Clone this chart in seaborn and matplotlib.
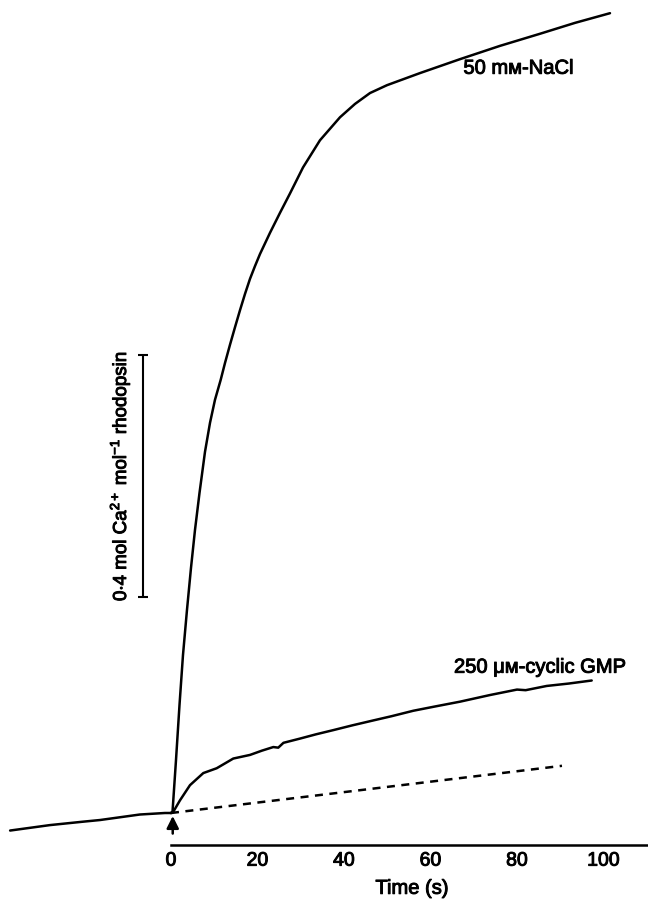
import numpy as np
import pandas as pd
import matplotlib
matplotlib.use("Agg")
import matplotlib.pyplot as plt
import matplotlib.patheffects as pe
import seaborn as sns

# --- data: Ca2+ released (mol Ca2+ / mol rhodopsin) versus time (s) ---
baseline_t = [-37.2, -28.0, -20.4, -16.4, -7.2, -1.4, 0.0]
baseline_v = [-0.029, -0.020, -0.0144, -0.0116, -0.0025, 0.0, 0.0]

nacl_t = [0.0, 0.35, 1.16, 1.97, 2.77, 3.70, 4.62, 5.55, 6.59, 7.86, 9.02,
          10.17, 11.49, 12.49, 13.64, 14.80, 15.95, 17.11, 18.27, 19.42,
          20.58, 22.89, 25.20, 27.51, 30.52, 34.45, 39.08, 42.54, 46.01,
          49.94, 57.57, 66.82, 76.07, 85.32, 93.41, 101.5]
nacl_v = [0.0, 0.002, 0.088, 0.179, 0.261, 0.336, 0.405, 0.468, 0.529, 0.597,
          0.645, 0.683, 0.716, 0.744, 0.774, 0.803, 0.831, 0.858, 0.883, 0.904,
          0.924, 0.959, 0.992, 1.024, 1.067, 1.112, 1.150, 1.172, 1.190,
          1.203, 1.223, 1.246, 1.268, 1.288, 1.306, 1.322]

cgmp_t = [0.0, 0.53, 2.08, 4.39, 7.47, 10.57, 14.40, 18.27, 21.0, 23.65, 24.8,
          26.0, 29.83, 33.5, 37.53, 42.0, 46.77, 51.0, 56.02, 61.0, 66.82,
          73.76, 80.0, 82.0, 86.87, 92.0, 97.27]
cgmp_v = [0.0, 0.002, 0.021, 0.046, 0.066, 0.074, 0.090, 0.096, 0.103, 0.109,
          0.108, 0.116, 0.123, 0.130, 0.137, 0.145, 0.153, 0.160, 0.169, 0.176,
          0.184, 0.195, 0.204, 0.203, 0.210, 0.214, 0.219]

# extrapolated pre-stimulus drift
drift_t = [0.0, 90.4]
drift_v = [0.0, 0.078]

time_ticks = [0, 20, 40, 60, 80, 100]
scale_bar = 0.4          # mol Ca2+ / mol rhodopsin
scale_bar_base = 0.357
label_nacl = "50 m\u1d0d-NaCl"
label_cgmp = "250 \u03bc\u1d0d-cyclic GMP"
label_scale = r"0$\cdot$4 mol Ca$^{2+}$ mol$^{-1}$ rhodopsin"

sns.set_style("white")
plt.rcParams["font.family"] = ["Liberation Sans", "DejaVu Sans"]
plt.rcParams["mathtext.fontset"] = "custom"
plt.rcParams["mathtext.rm"] = "Liberation Sans"
plt.rcParams["mathtext.it"] = "Liberation Sans:italic"
plt.rcParams["mathtext.bf"] = "Liberation Sans:bold"
plt.rcParams["text.color"] = "black"
plt.rcParams["xtick.color"] = "black"
plt.rcParams["axes.labelcolor"] = "black"

# slightly heavier lettering
ink = [pe.withStroke(linewidth=0.7, foreground="black")]

fig = plt.figure(figsize=(6.48, 9.05), dpi=100)
ax = fig.add_axes([0.0, 60 / 905, 1.0, 845 / 905])

lw = 1.8
kw = dict(color="black", linewidth=lw, estimator=None, sort=False, ax=ax)
sns.lineplot(x=baseline_t, y=baseline_v, **kw)
sns.lineplot(x=nacl_t, y=nacl_v, **kw)
sns.lineplot(x=cgmp_t, y=cgmp_v, **kw)
sns.lineplot(x=drift_t, y=drift_v, **kw)
ax.lines[-1].set_dashes((3.2, 2.6))

# calibration bar
bar_x = -6.47
ax.plot([bar_x, bar_x], [scale_bar_base, scale_bar_base + scale_bar],
        color="black", linewidth=1.5, marker="_", markersize=7, mew=1.5)
ax.text(-11.8, scale_bar_base + scale_bar / 2, label_scale, rotation=90,
        ha="center", va="center", fontsize=13.5, path_effects=ink)

# stimulus arrow
ax.annotate("", xy=(0.4, -0.005), xytext=(0.4, -0.034),
            arrowprops=dict(arrowstyle="-|>", color="black", lw=1.8,
                            mutation_scale=18, shrinkA=0, shrinkB=0))

ax.text(80.3, 1.231, label_nacl, ha="center", va="center", fontsize=14.5,
        path_effects=ink)
ax.text(85.3, 0.241, label_cgmp, ha="center", va="center", fontsize=14.5,
        path_effects=ink)

ax.set_xlim(-171 / 4.325, 477 / 4.325)
ax.set_ylim(-32 * 0.4 / 242, 813 * 0.4 / 242)

for s in ["top", "left", "right"]:
    ax.spines[s].set_visible(False)
ax.spines["bottom"].set_linewidth(1.8)
ax.spines["bottom"].set_color("black")
ax.spines["bottom"].set_bounds(0, 477 / 4.325)
ax.set_xticks(time_ticks)
ax.set_xticklabels([str(t) for t in time_ticks])
ax.set_yticks([])
ax.tick_params(axis="x", direction="inout", length=8, width=1.5,
               labelsize=14, pad=1.5)
for lab in ax.get_xticklabels():
    lab.set_path_effects(ink)
ax.set_xlabel("Time (s)", fontsize=14.5)
ax.xaxis.label.set_path_effects(ink)
ax.xaxis.set_label_coords(412 / 648, -0.040)
ax.set_ylabel("")

fig.savefig("out.png", dpi=100)
